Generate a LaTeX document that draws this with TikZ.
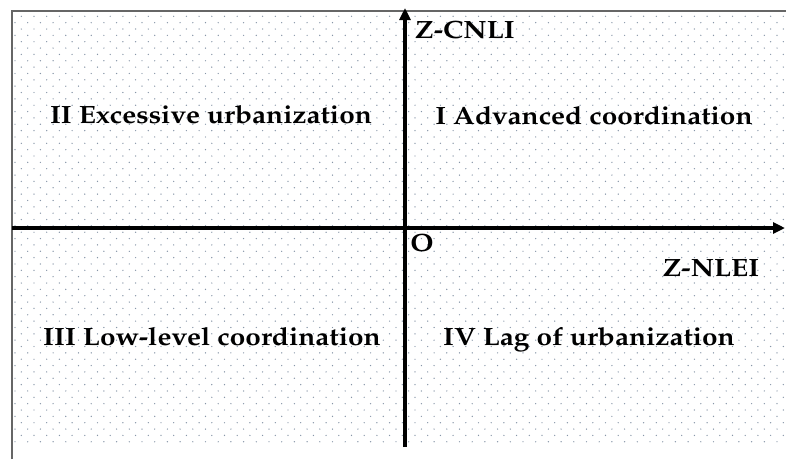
\documentclass[tikz,border=0pt]{standalone}
\usepackage[T1]{fontenc}
\usepackage{mathpazo}
\usepackage{graphicx}
\usetikzlibrary{arrows.meta}
\definecolor{dotc}{RGB}{135,150,168}
\newcommand\widetext[1]{\scalebox{1.12}[1]{#1}}
\tikzset{
  lbl/.style={font=\fontsize{25}{27}\selectfont\bfseries, inner sep=0pt, anchor=center},
  axis/.style={line width=3.6pt, -{Triangle[length=12pt,width=11pt]}},
  frame/.style={draw=black!60, line width=1.6pt},
}
\begin{document}
\begin{tikzpicture}[x=1pt,y=-1pt]
\useasboundingbox (0,0) rectangle (786,459);
\fill[white] (0,0) rectangle (786,459);
% dot field
\foreach \k in {0,...,67}{
  \pgfmathsetmacro{\yy}{16.3+6.35*\k}
  \pgfmathsetmacro{\xo}{ifthenelse(mod(\k,2)==0,21.3,15)}
  \foreach \j in {0,...,60}{
    \fill[dotc] ({\xo+12.7*\j},\yy) circle (0.7pt);
  }
}
% frame
\draw[frame] (12,459) -- (12,11) -- (786,11);
% axes
\coordinate (xs) at (12,228);
\coordinate (xe) at (785,228);
\coordinate (ys) at (405,447);
\coordinate (ye) at (405,8);
\draw[axis] (xs) -- (xe);
\draw[axis] (ys) -- (ye);
% labels
\node[lbl] (ycap) at (465,30) {\widetext{Z-CNLI}};
\node[lbl] (xcap) at (711,268) {\widetext{Z-NLEI}};
\node[lbl] (o) at (422,243) {\widetext{O}};
\node[lbl] (q1) at (594,116) {\widetext{I Advanced coordination}};
\node[lbl] (q2) at (211,115) {\widetext{II Excessive urbanization}};
\node[lbl] (q3) at (212,337) {\widetext{III Low-level coordination}};
\node[lbl] (q4) at (589,340) {\widetext{IV Lag of urbanization}};
\end{tikzpicture}
\end{document}
